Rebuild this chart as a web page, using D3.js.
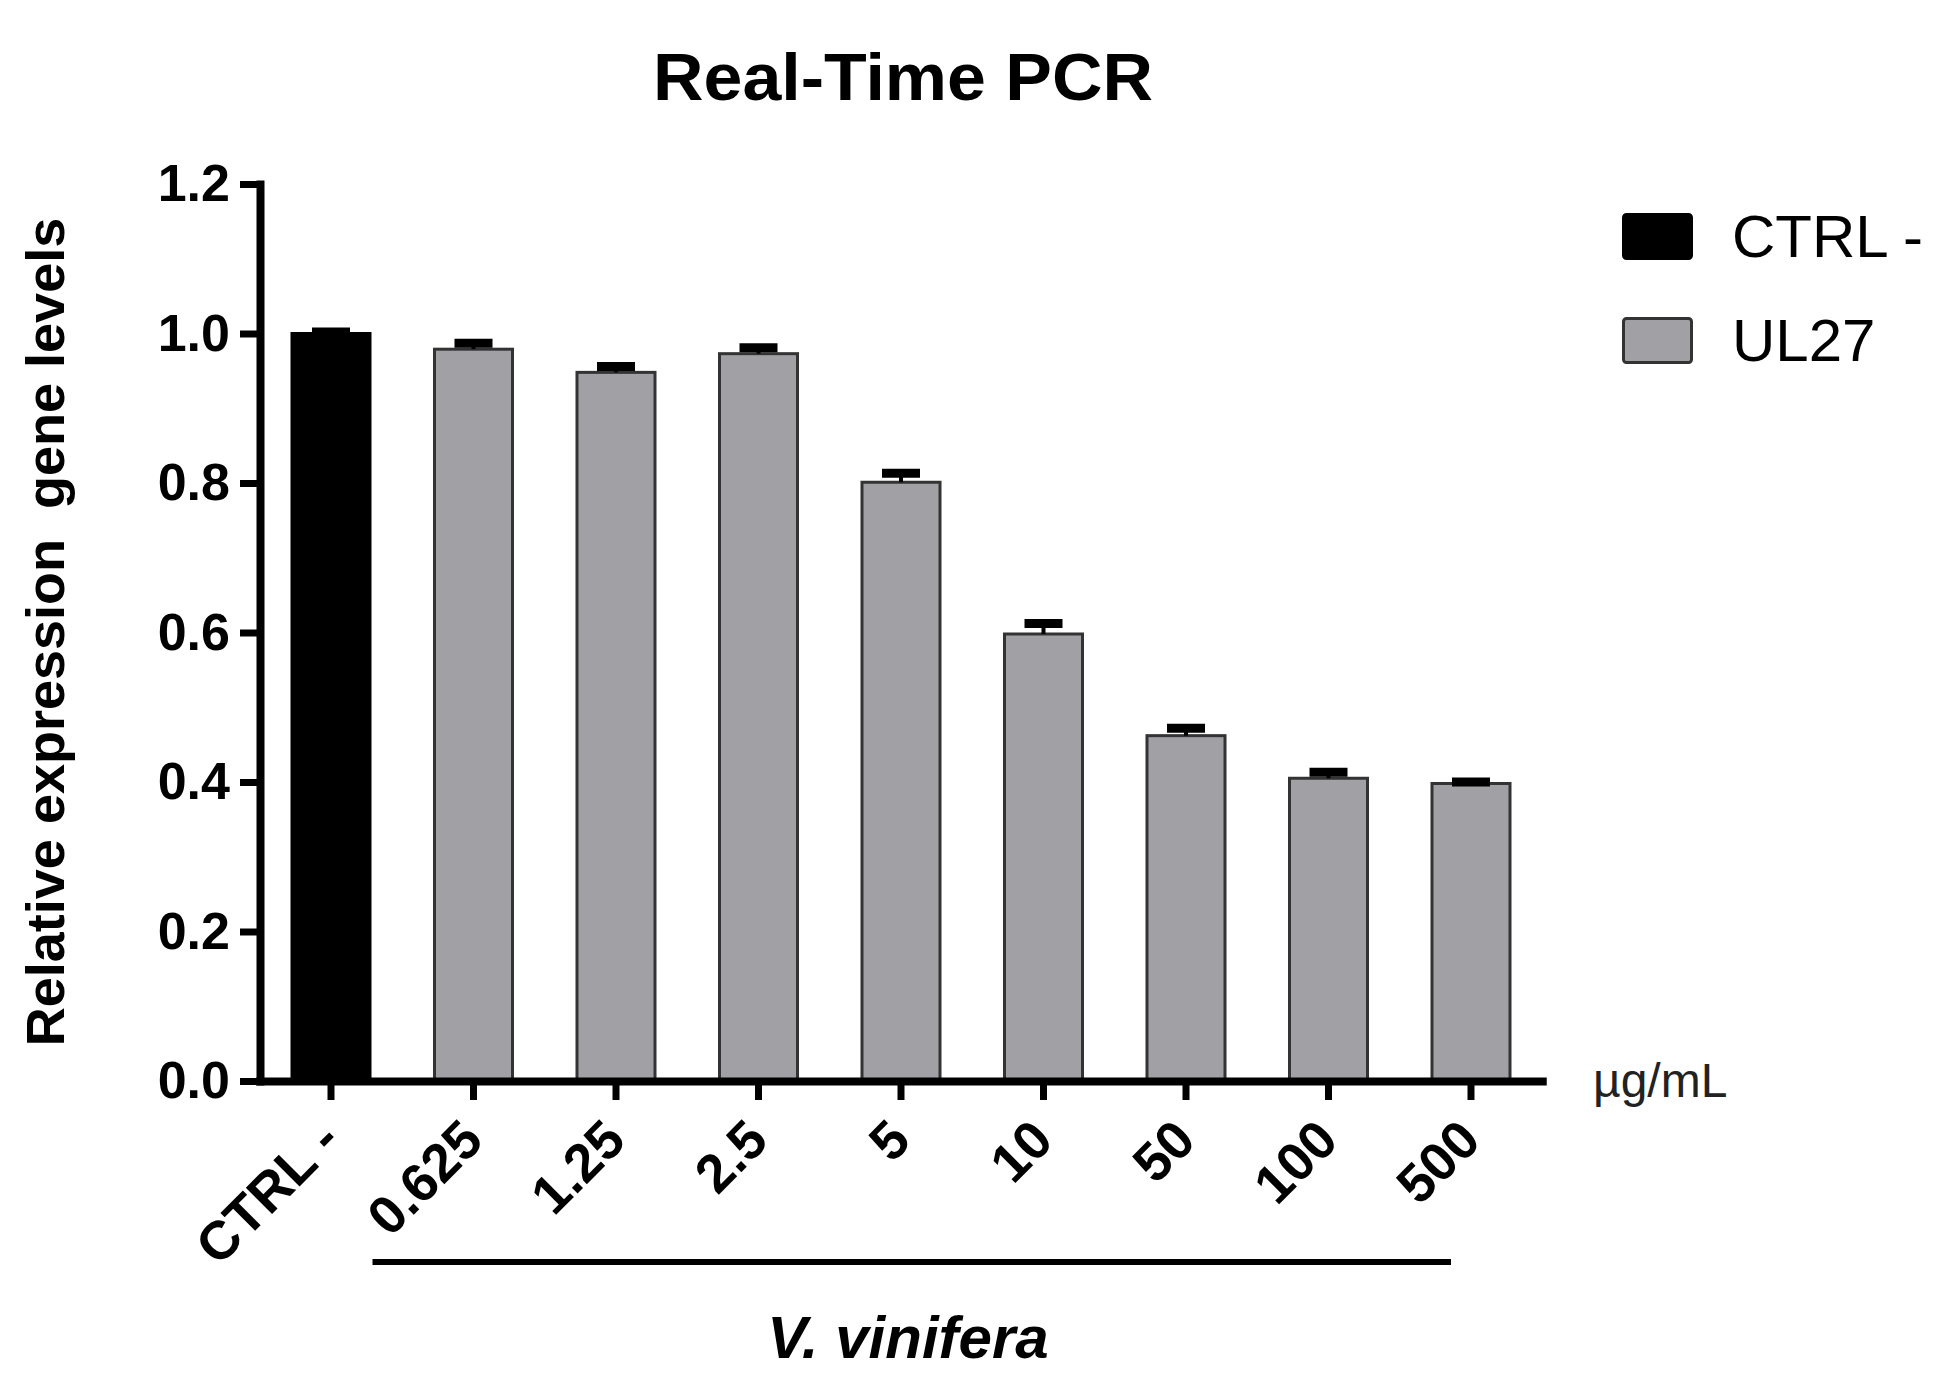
<!DOCTYPE html>
<html>
<head>
<meta charset="utf-8">
<script src="https://cdn.jsdelivr.net/npm/d3@7.9.0/dist/d3.min.js"></script>
<style>
  body { margin: 0; background: #fff; }
  svg { display: block; font-family: "Liberation Sans", Arial, sans-serif; }
</style>
</head>
<body>
<div id="chart"></div>
<script>
// ---- data ----
const categories = ['CTRL -', '0.625', '1.25', '2.5', '5', '10', '50', '100', '500'];
const values = [1.000, 0.979, 0.948, 0.973, 0.801, 0.598, 0.462, 0.405, 0.398];
const errors = [0.002, 0.008, 0.008, 0.008, 0.012, 0.014, 0.010, 0.008, 0.002];
const groups = ['CTRL -', 'UL27', 'UL27', 'UL27', 'UL27', 'UL27', 'UL27', 'UL27', 'UL27'];
const yTicks = [0, 0.2, 0.4, 0.6, 0.8, 1.0, 1.2];
const legendItems = ['CTRL -', 'UL27'];

const width = 1954;
const height = 1389;
const color = { 'CTRL -': '#000000', 'UL27': '#a1a0a5' };

const svg = d3.select('#chart').append('svg')
  .attr('width', width)
  .attr('height', height);

// scales
const x = d3.scaleBand()
  .domain(categories)
  .range([259.75, 1542.25])
  .paddingInner(0.4526)
  .paddingOuter(0.2263);

const y = d3.scaleLinear()
  .domain([0, 1.2])
  .range([1081, 184]);

// title
svg.append('text')
  .attr('x', 903)
  .attr('y', 100)
  .attr('text-anchor', 'middle')
  .attr('font-size', 66)
  .attr('font-weight', 'bold')
  .attr('textLength', 500)
  .attr('lengthAdjust', 'spacingAndGlyphs')
  .text('Real-Time PCR');

// y label
svg.append('text')
  .attr('transform', 'translate(64, 632) rotate(-90)')
  .attr('text-anchor', 'middle')
  .attr('font-size', 54)
  .attr('font-weight', 'bold')
  .attr('xml:space', 'preserve')
  .style('white-space', 'pre')
  .text('Relative expression  gene levels');

// bars
const bars = svg.append('g').attr('class', 'bars');
bars.selectAll('rect')
  .data(categories)
  .join('rect')
  .attr('x', (d) => x(d))
  .attr('y', (d, i) => y(values[i]))
  .attr('width', x.bandwidth())
  .attr('height', (d, i) => y(0) - y(values[i]))
  .attr('fill', (d, i) => color[groups[i]])
  .attr('stroke', (d, i) => (groups[i] === 'CTRL -' ? '#000' : '#333'))
  .attr('stroke-width', 3);

// error bars (upper only)
const err = svg.append('g').attr('class', 'errors');
const capW = 38;
err.selectAll('line.stem')
  .data(categories)
  .join('line')
  .attr('class', 'stem')
  .attr('x1', (d) => x(d) + x.bandwidth() / 2)
  .attr('x2', (d) => x(d) + x.bandwidth() / 2)
  .attr('y1', (d, i) => y(values[i]))
  .attr('y2', (d, i) => y(values[i] + errors[i]))
  .attr('stroke', '#000')
  .attr('stroke-width', 4);
err.selectAll('line.cap')
  .data(categories)
  .join('line')
  .attr('class', 'cap')
  .attr('x1', (d) => x(d) + x.bandwidth() / 2 - capW / 2)
  .attr('x2', (d) => x(d) + x.bandwidth() / 2 + capW / 2)
  .attr('y1', (d, i) => y(values[i] + errors[i]))
  .attr('y2', (d, i) => y(values[i] + errors[i]))
  .attr('stroke', '#000')
  .attr('stroke-width', 9);

// y axis
const yAxis = svg.append('g')
  .attr('transform', 'translate(260, 0)')
  .call(d3.axisLeft(y).tickValues(yTicks).tickFormat(d3.format('.1f')).tickSize(20).tickSizeOuter(0).tickPadding(10));
yAxis.select('.domain').attr('stroke-width', 8).attr('stroke-linecap', 'square');
yAxis.selectAll('.tick line').attr('stroke-width', 7);
yAxis.selectAll('.tick text')
  .attr('font-size', 52)
  .attr('font-weight', 'bold')
  .attr('fill', '#000')
  .attr('font-family', '"Liberation Sans", Arial, sans-serif');

// x axis
const xAxis = svg.append('g')
  .attr('transform', 'translate(0, 1081)')
  .call(d3.axisBottom(x).tickSize(19).tickSizeOuter(0));
xAxis.select('.domain').attr('stroke-width', 8).attr('stroke-linecap', 'square');
xAxis.selectAll('.tick line').attr('stroke-width', 7);
xAxis.selectAll('.tick text')
  .attr('font-size', 54)
  .attr('font-weight', 'bold')
  .attr('fill', '#000')
  .attr('font-family', '"Liberation Sans", Arial, sans-serif')
  .attr('text-anchor', 'end')
  .attr('dy', 0)
  .attr('y', 0)
  .attr('transform', 'translate(12, 62) rotate(-45)');

// unit label
svg.append('text')
  .attr('x', 1593)
  .attr('y', 1097)
  .attr('font-size', 48)
  .attr('fill', '#222')
  .text('µg/mL');

// bracket under treated groups
const treated = categories.slice(1);
svg.append('line')
  .attr('x1', x(treated[0]) + x.bandwidth() / 2 - 101)
  .attr('x2', x(treated[treated.length - 1]) + x.bandwidth() / 2 - 20)
  .attr('y1', 1262)
  .attr('y2', 1262)
  .attr('stroke', '#000')
  .attr('stroke-width', 6);

svg.append('text')
  .attr('x', 908)
  .attr('y', 1358)
  .attr('text-anchor', 'middle')
  .attr('font-size', 60)
  .attr('font-weight', 'bold')
  .attr('font-style', 'italic')
  .text('V. vinifera');

// legend
const legend = svg.append('g').attr('transform', 'translate(1622, 213)');
legendItems.forEach((name, i) => {
  const g = legend.append('g').attr('transform', `translate(0, ${i * 104})`);
  g.append('rect')
    .attr('x', 1.5)
    .attr('y', 1.5)
    .attr('width', 68)
    .attr('height', 44)
    .attr('rx', 3)
    .attr('fill', color[name])
    .attr('stroke', name === 'CTRL -' ? '#000' : '#333')
    .attr('stroke-width', 3);
  g.append('text')
    .attr('x', 110)
    .attr('y', 44)
    .attr('font-size', 60)
    .attr('fill', '#000')
    .text(name);
});
</script>
</body>
</html>
